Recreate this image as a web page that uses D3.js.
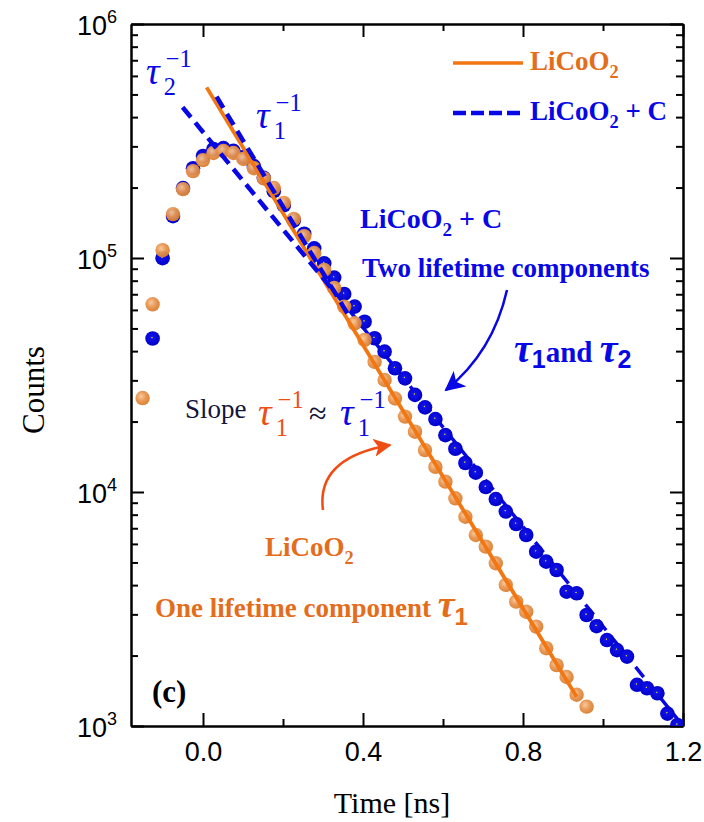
<!DOCTYPE html>
<html>
<head>
<meta charset="utf-8">
<script src="https://cdn.jsdelivr.net/npm/d3@7"></script>
<style>
  body { margin: 0; background: #fff; }
  svg { display: block; }
  .axis path, .axis line { stroke: #000; stroke-width: 2; }
  .axis text { font-family: "Liberation Sans", Arial, sans-serif; font-size: 27px; fill: #000; }
  .serif { font-family: "Liberation Serif", "Times New Roman", serif; }
</style>
</head>
<body>
<div id="chart"></div>
<script>
// time channels [ns]
var times = [-0.151,-0.126,-0.101,-0.075,-0.050,-0.025,0.000,0.026,0.051,0.076,0.101,0.127,0.152,0.177,0.202,0.227,0.253,0.278,0.303,0.328,0.353,0.379,0.404,0.429,0.454,0.480,0.505,0.530,0.555,0.581,0.606,0.631,0.656,0.682,0.707,0.732,0.757,0.783,0.808,0.833,0.858,0.884,0.909,0.934,0.959,0.984,1.010,1.035,1.060,1.085,1.110,1.136,1.161,1.186];

// LiCoO2 counts (first 45 channels)
var countsLiCoO2 = [25200,63400,108000,154000,197000,235000,262000,281000,287000,281000,265000,242000,219000,199000,172000,147000,124000,105000,88900,74500,62000,52600,44700,36000,30100,25100,21000,18100,15100,12800,11070,9400,7840,6550,5840,4960,4010,3400,3080,2660,2150,1820,1620,1360,1210];

// LiCoO2 + C counts (first channel below 10^3)
var countsLiCoO2C = [null,45300,99800,151000,199000,242000,273000,292000,295000,287000,270000,247000,220000,193000,168000,145000,127000,110000,94900,82500,70200,62000,53400,45400,39800,33800,30600,26000,23000,20500,17500,15300,13300,12100,10500,9330,8250,7300,6550,5560,5040,4640,3750,3690,2980,2670,2330,2110,1980,1500,1450,1380,1130,1010];

// fitted lines [time, counts]
var fitLiCoO2 = [[0.009, 536000], [0.934, 1334]];
var fitTau1C = [[0.034, 489000], [0.368, 55400]];
var fitTau2C = [[-0.051, 441000], [0.330, 71100]];
var fitTailC = [[0.330, 71100], [1.200, 1000]];

var xMajorTicks = [0.0, 0.4, 0.8, 1.2];
var xMinorTicks = [0.2, 0.6, 1.0];
var yExponents = [3, 4, 5, 6];
var yMinorMult = [2, 3, 4, 5, 6, 7, 8, 9];

var widthTotal = 704,
  heightTotal = 822,
  margin = {top: 24, right: 21, bottom: 96, left: 131},
  x0 = margin.left, x1 = widthTotal - margin.right,
  y0 = heightTotal - margin.bottom, y1 = margin.top;

var blue = "#0808e6", orange = "#f27612", orangeText = "#e46d1c", slopeRed = "#ee4e14";

var x = d3.scaleLinear().domain([-0.18, 1.2]).range([x0, x1]);
var y = d3.scaleLog().domain([1e3, 1e6]).range([y0, y1]);

var svg = d3.select("#chart").append("svg")
  .attr("width", widthTotal)
  .attr("height", heightTotal);

var defs = svg.append("defs");
defs.append("clipPath").attr("id", "plotClip")
  .append("rect").attr("x", x0).attr("y", y1).attr("width", x1 - x0).attr("height", y0 - y1);

// sphere-like marker gradients
var gO = defs.append("radialGradient").attr("id", "gradOrange").attr("cx", "40%").attr("cy", "38%").attr("r", "62%");
gO.append("stop").attr("offset", "0%").attr("stop-color", "#f6c898");
gO.append("stop").attr("offset", "50%").attr("stop-color", "#e99652");
gO.append("stop").attr("offset", "100%").attr("stop-color", "#d87e30");
var gB = defs.append("radialGradient").attr("id", "gradBlue").attr("cx", "46%").attr("cy", "44%").attr("r", "58%");
gB.append("stop").attr("offset", "0%").attr("stop-color", "#d0d050");
gB.append("stop").attr("offset", "6%").attr("stop-color", "#a0a060");
gB.append("stop").attr("offset", "13%").attr("stop-color", "#1212e8");
gB.append("stop").attr("offset", "100%").attr("stop-color", "#0000c8");

function arrowMarker(id, color, size) {
  defs.append("marker").attr("id", id)
    .attr("viewBox", "0 0 10 10").attr("refX", 9).attr("refY", 5)
    .attr("markerWidth", size).attr("markerHeight", size)
    .attr("markerUnits", "userSpaceOnUse")
    .attr("orient", "auto")
    .append("path").attr("d", "M0,0 L10,5 L0,10 L2.5,5 Z").attr("fill", color);
}
arrowMarker("arrBlue", blue, 20);
arrowMarker("arrOrange", slopeRed, 18);

// axes
function drawAxis(axis, transform) {
  return svg.append("g").attr("class", "axis").attr("transform", transform).call(axis);
}
var yMajor = yExponents.map(function (e) { return Math.pow(10, e); });
var yMinor = [];
yExponents.slice(0, -1).forEach(function (e) {
  yMinorMult.forEach(function (m) { yMinor.push(m * Math.pow(10, e)); });
});

drawAxis(d3.axisBottom(x).tickValues(xMajorTicks).tickSize(-13).tickSizeOuter(0).tickPadding(16).tickFormat(d3.format(".1f")), "translate(0," + y0 + ")");
drawAxis(d3.axisBottom(x).tickValues(xMinorTicks).tickSize(-7).tickSizeOuter(0).tickFormat(""), "translate(0," + y0 + ")");
drawAxis(d3.axisTop(x).tickValues(xMajorTicks).tickSize(-13).tickSizeOuter(0).tickFormat(""), "translate(0," + y1 + ")");
drawAxis(d3.axisTop(x).tickValues(xMinorTicks).tickSize(-7).tickSizeOuter(0).tickFormat(""), "translate(0," + y1 + ")");
drawAxis(d3.axisLeft(y).tickValues(yMajor).tickSize(-13).tickSizeOuter(0).tickFormat(""), "translate(" + x0 + ",0)");
drawAxis(d3.axisLeft(y).tickValues(yMinor).tickSize(-7).tickSizeOuter(0).tickFormat(""), "translate(" + x0 + ",0)");
drawAxis(d3.axisRight(y).tickValues(yMajor).tickSize(-13).tickSizeOuter(0).tickFormat(""), "translate(" + x1 + ",0)");
drawAxis(d3.axisRight(y).tickValues(yMinor).tickSize(-7).tickSizeOuter(0).tickFormat(""), "translate(" + x1 + ",0)");
svg.selectAll(".axis path.domain").attr("stroke-width", 2.5);

// y tick labels 10^n
var yLab = svg.append("g").attr("font-family", "Liberation Sans, Arial, sans-serif");
yExponents.forEach(function (e) {
  var t = yLab.append("text").attr("x", 77).attr("y", y(Math.pow(10, e)) + 11).attr("font-size", 27);
  t.append("tspan").text("10");
  t.append("tspan").attr("font-size", 18).attr("dy", -12).text(e);
});

// axis titles
svg.append("text").attr("class", "serif").attr("font-size", 30)
  .attr("text-anchor", "middle").attr("x", 392).attr("y", 813)
  .text("Time [ns]");
svg.append("text").attr("class", "serif").attr("font-size", 31)
  .attr("text-anchor", "middle").attr("transform", "translate(44,390) rotate(-90)")
  .text("Counts");

// data
var plot = svg.append("g").attr("clip-path", "url(#plotClip)");
var line = d3.line().x(function (d) { return x(d[0]); }).y(function (d) { return y(d[1]); });

plot.append("path").datum(fitTailC).attr("d", line)
  .attr("fill", "none").attr("stroke", blue).attr("stroke-width", 3.5).attr("stroke-dasharray", "13,7");

var bluePts = times.map(function (t, i) { return [t, countsLiCoO2C[i]]; }).filter(function (d) { return d[1] != null; });
var orangePts = countsLiCoO2.map(function (c, i) { return [times[i], c]; });

plot.selectAll(".ptBlue").data(bluePts).enter().append("circle")
  .attr("class", "ptBlue")
  .attr("cx", function (d) { return x(d[0]); })
  .attr("cy", function (d) { return y(d[1]); })
  .attr("r", 7.3)
  .attr("fill", "url(#gradBlue)");

plot.selectAll(".ptOrange").data(orangePts).enter().append("circle")
  .attr("class", "ptOrange")
  .attr("cx", function (d) { return x(d[0]); })
  .attr("cy", function (d) { return y(d[1]); })
  .attr("r", 7.2)
  .attr("fill", "url(#gradOrange)")
  .attr("opacity", 0.95);

plot.append("path").datum(fitLiCoO2).attr("d", line)
  .attr("fill", "none").attr("stroke", orange).attr("stroke-width", 3.8);
plot.append("path").datum(fitTau2C).attr("d", line)
  .attr("fill", "none").attr("stroke", blue).attr("stroke-width", 4.5).attr("stroke-dasharray", "13,7");
plot.append("path").datum(fitTau1C).attr("d", line)
  .attr("fill", "none").attr("stroke", blue).attr("stroke-width", 4.5).attr("stroke-dasharray", "13,7");

// legend
var leg = svg.append("g");
leg.append("line").attr("x1", 453).attr("x2", 523).attr("y1", 63).attr("y2", 63)
  .attr("stroke", orange).attr("stroke-width", 3.5);
leg.append("line").attr("x1", 453).attr("x2", 524).attr("y1", 113).attr("y2", 113)
  .attr("stroke", blue).attr("stroke-width", 4.5).attr("stroke-dasharray", "13,5");

function chem(g, xx, yy, color, size, suffix) {
  var t = g.append("text").attr("class", "serif").attr("x", xx).attr("y", yy)
    .attr("font-size", size).attr("font-weight", "bold").attr("fill", color);
  t.append("tspan").text("LiCoO");
  t.append("tspan").attr("font-size", size * 0.68).attr("dy", size * 0.28).text("2");
  if (suffix) t.append("tspan").attr("dy", -size * 0.28).text(suffix);
  return t;
}
chem(leg, 530, 70, orangeText, 27);
chem(leg, 530, 120, blue, 27, " + C");

// tau^-1 labels
function tauInv(g, xx, yy, sub, color, size) {
  var t = g.append("text").attr("class", "serif").attr("fill", color);
  t.append("tspan").attr("x", xx).attr("y", yy).attr("font-size", size).attr("font-style", "italic").text("\u03c4");
  t.append("tspan").attr("x", xx + size * 0.47).attr("y", yy + size * 0.3).attr("font-size", size * 0.64).text(sub);
  t.append("tspan").attr("x", xx + size * 0.52).attr("y", yy - size * 0.45).attr("font-size", size * 0.64).text("\u22121");
  return t;
}
var ann = svg.append("g");
tauInv(ann, 146, 84, "2", blue, 38);
tauInv(ann, 256, 128, "1", blue, 38);

ann.append("text").attr("class", "serif").attr("x", 185).attr("y", 418)
  .attr("font-size", 27).attr("fill", "#14143c").text("Slope");
tauInv(ann, 258, 425, "1", slopeRed, 38);
ann.append("text").attr("class", "serif").attr("x", 309).attr("y", 424)
  .attr("font-size", 32).attr("fill", "#14143c").text("\u2248");
tauInv(ann, 340, 425, "1", blue, 38);

chem(ann, 360, 228, blue, 28, " + C");
ann.append("text").attr("class", "serif").attr("x", 362).attr("y", 277)
  .attr("font-size", 27).attr("font-weight", "bold").attr("fill", blue)
  .text("Two lifetime components");

var tt = ann.append("text").attr("class", "serif").attr("x", 514).attr("y", 362)
  .attr("font-size", 29).attr("font-weight", "bold").attr("fill", blue);
tt.append("tspan").attr("font-style", "italic").attr("font-size", 40).text("\u03c4");
tt.append("tspan").attr("font-size", 25).attr("dy", 6).attr("font-family", "Liberation Sans, Arial, sans-serif").text("1");
tt.append("tspan").attr("dy", -6).text("and ");
tt.append("tspan").attr("font-style", "italic").attr("font-size", 40).text("\u03c4");
tt.append("tspan").attr("font-size", 25).attr("dy", 6).attr("font-family", "Liberation Sans, Arial, sans-serif").text("2");

chem(ann, 265, 556, orangeText, 27);
var one = ann.append("text").attr("class", "serif").attr("x", 155).attr("y", 617)
  .attr("font-size", 27).attr("font-weight", "bold").attr("fill", orangeText);
one.append("tspan").text("One lifetime component ");
one.append("tspan").attr("font-style", "italic").attr("font-size", 38).text("\u03c4");
one.append("tspan").attr("font-size", 24).attr("dy", 8).attr("font-family", "Liberation Sans, Arial, sans-serif").text("1");

ann.append("text").attr("class", "serif").attr("x", 152).attr("y", 702)
  .attr("font-size", 31).attr("font-weight", "bold").text("(c)");

// curved arrows
ann.append("path").attr("d", "M507,290 Q493,352 446,390")
  .attr("fill", "none").attr("stroke", blue).attr("stroke-width", 2.5).attr("marker-end", "url(#arrBlue)");
ann.append("path").attr("d", "M323,510 Q316,458 390,445")
  .attr("fill", "none").attr("stroke", slopeRed).attr("stroke-width", 2.5).attr("marker-end", "url(#arrOrange)");
</script>
</body>
</html>
